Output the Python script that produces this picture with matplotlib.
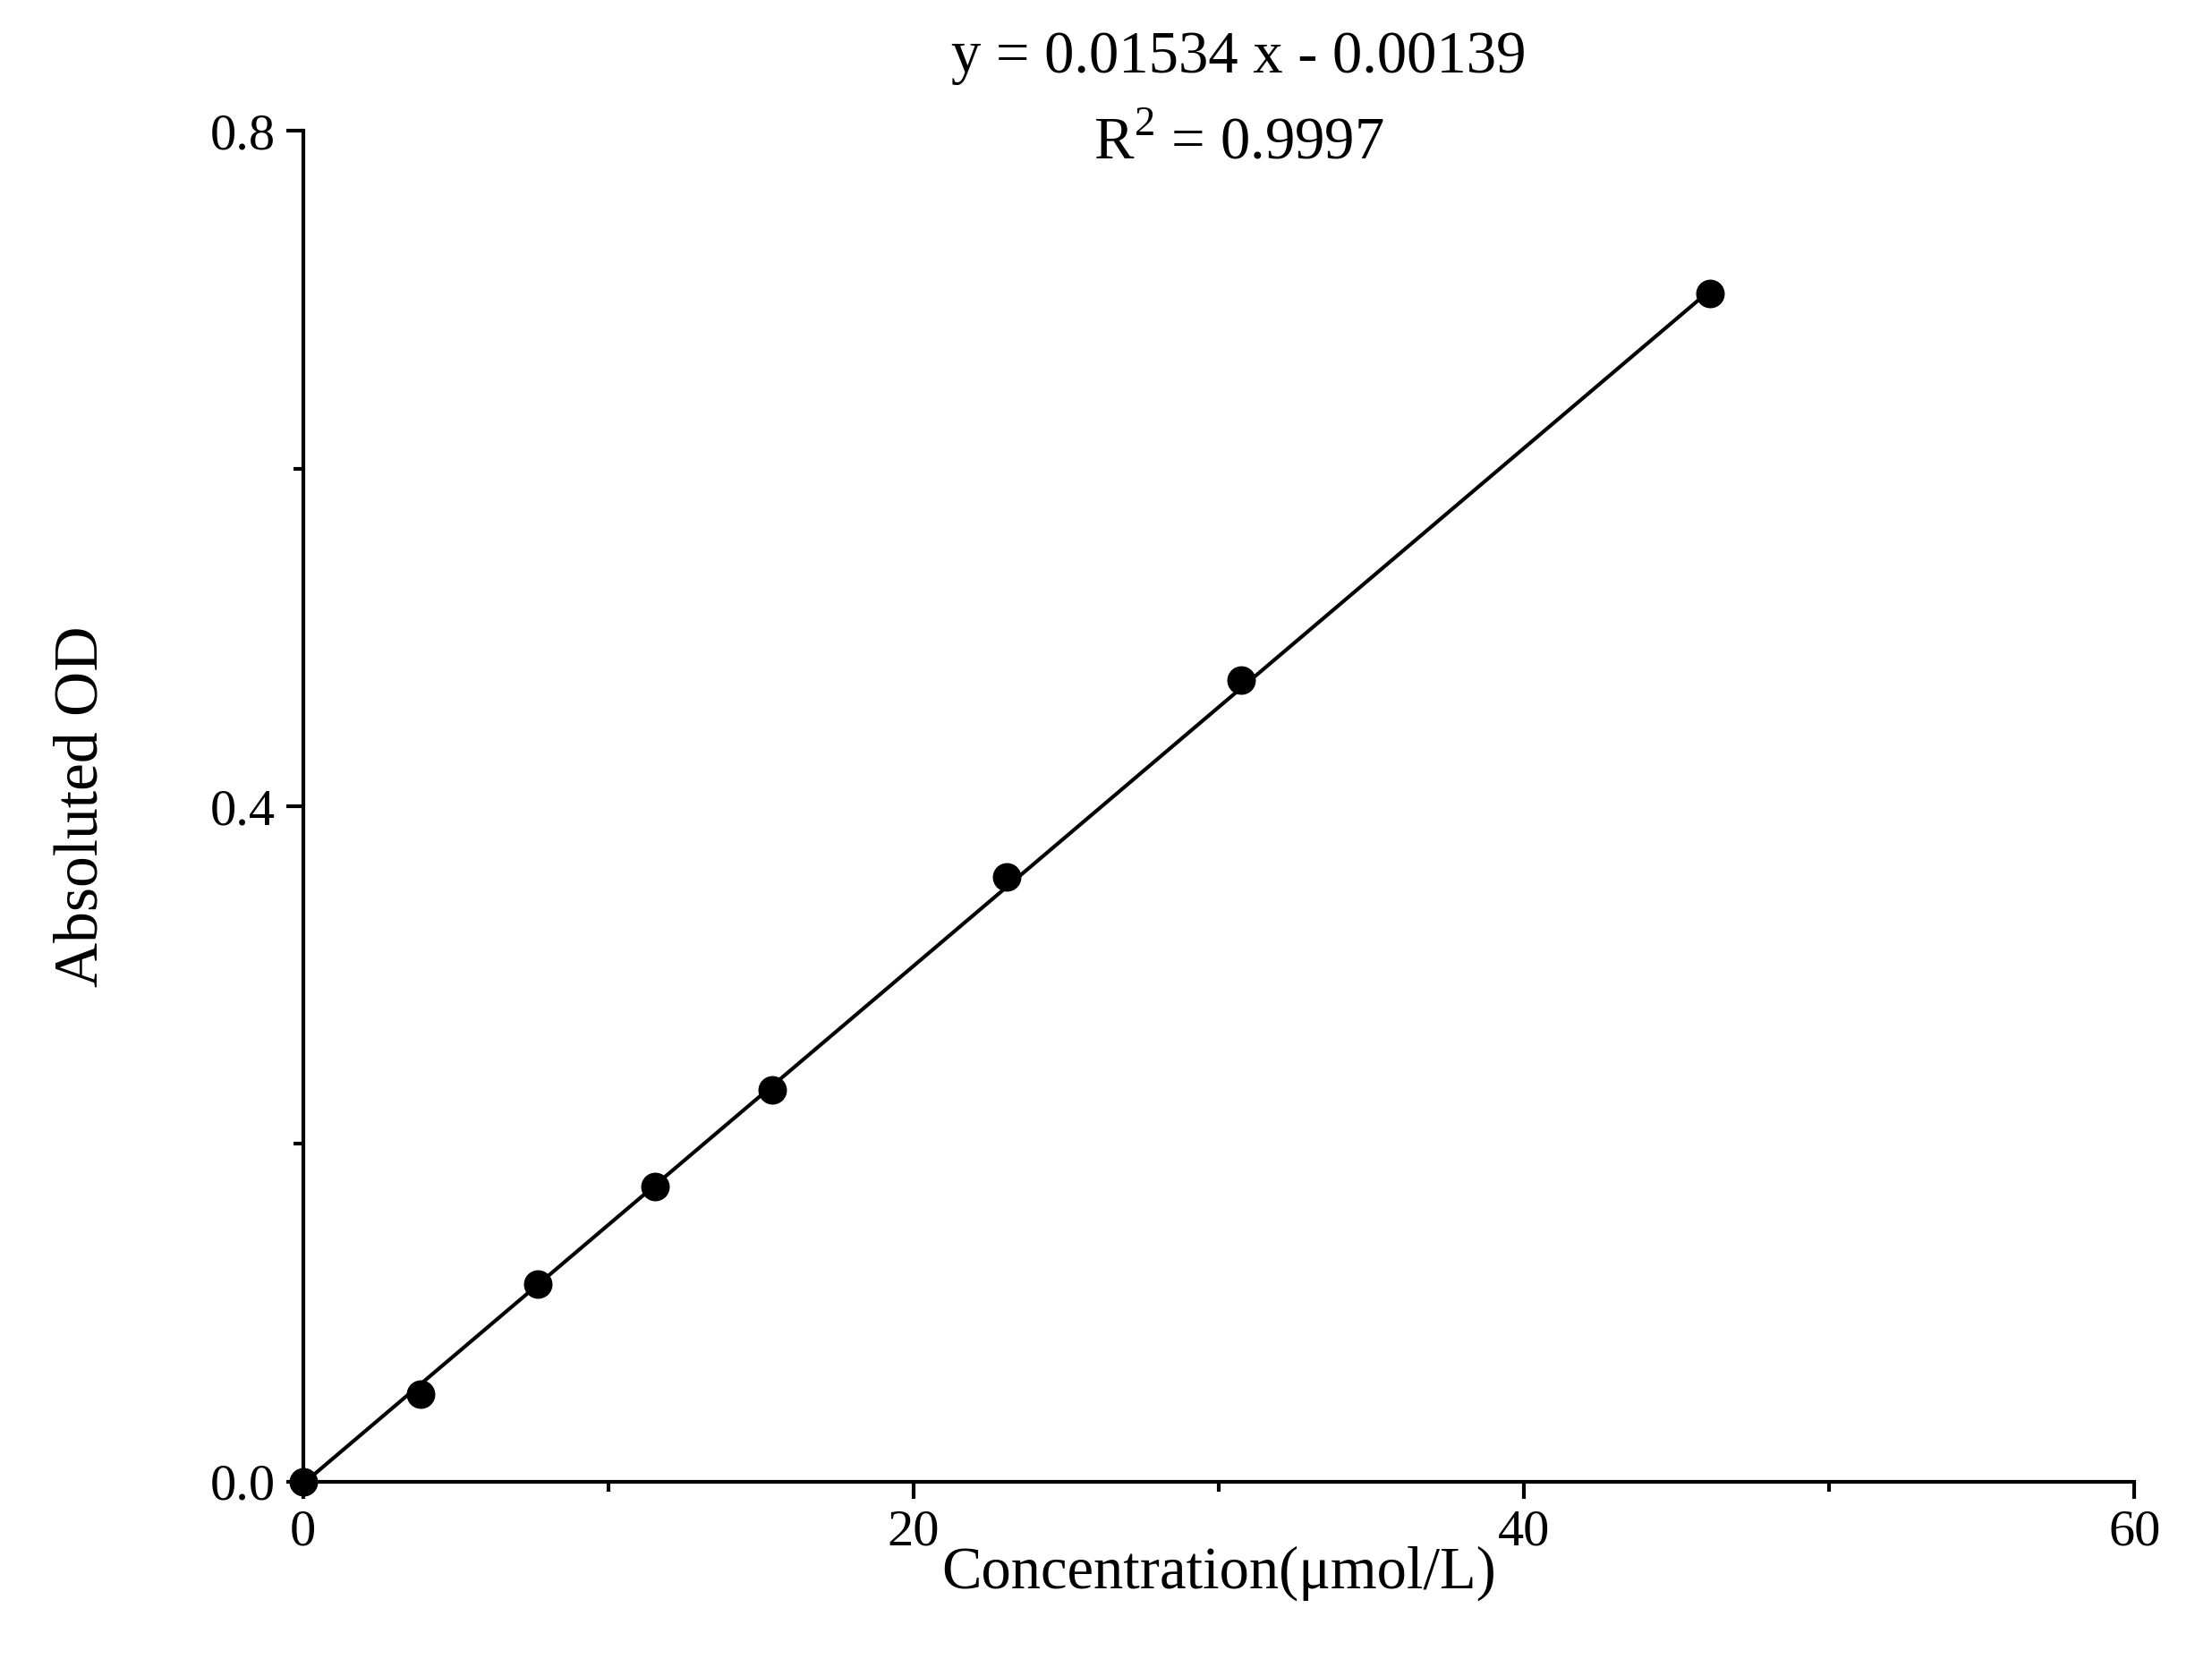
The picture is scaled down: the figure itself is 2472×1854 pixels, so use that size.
import matplotlib
matplotlib.use("Agg")
import matplotlib.pyplot as plt
import numpy as np
from matplotlib.ticker import MultipleLocator

conc = [0, 3.84, 7.68, 11.52, 15.36, 23.04, 30.72, 46.08]
od = [0.0, 0.052, 0.117, 0.1745, 0.232, 0.358, 0.475, 0.704]
slope, intercept = 0.01534, -0.00139

plt.rcParams['font.family'] = ['Liberation Serif', 'DejaVu Serif']
plt.rcParams['mathtext.fontset'] = 'custom'
plt.rcParams['mathtext.rm'] = 'Liberation Serif'
fig = plt.figure(figsize=(24.72, 18.54), dpi=100)
ax = fig.add_axes([0.137, 0.107, 0.828, 0.814])
xf = np.array([conc[0], conc[-1]])
ax.plot(xf, slope * xf + intercept, color='black', lw=3, zorder=2)
ax.plot(conc, od, 'o', color='black', ms=22, zorder=3, clip_on=False)
ax.set_xlim(0, 60)
ax.set_ylim(0, 0.8)
ax.xaxis.set_major_locator(MultipleLocator(20))
ax.xaxis.set_minor_locator(MultipleLocator(10))
ax.yaxis.set_major_locator(MultipleLocator(0.4))
ax.yaxis.set_minor_locator(MultipleLocator(0.2))
ax.xaxis.set_major_formatter(matplotlib.ticker.FuncFormatter(lambda v, p: f"{v:.0f}"))
ax.yaxis.set_major_formatter(matplotlib.ticker.FuncFormatter(lambda v, p: f"{v:.1f}"))
for s in ['top', 'right']:
    ax.spines[s].set_visible(False)
for s in ['left', 'bottom']:
    ax.spines[s].set_linewidth(3)
ax.tick_params(which='major', direction='out', length=14, width=3, labelsize=42, pad=8)
ax.tick_params(which='minor', direction='out', length=8, width=3)
ax.set_xlabel('Concentration(μmol/L)', fontsize=48, labelpad=-8)
ax.set_ylabel('Absoluted OD', fontsize=50, labelpad=80)
fig.text(0.56, 0.965, 'y = 0.01534 x - 0.00139', fontsize=48, ha='center', va='center')
fig.text(0.56, 0.913, r'R$^{\mathregular{2}}$ = 0.9997', fontsize=48, ha='center', va='center')
fig.savefig('out.png', dpi=100)
